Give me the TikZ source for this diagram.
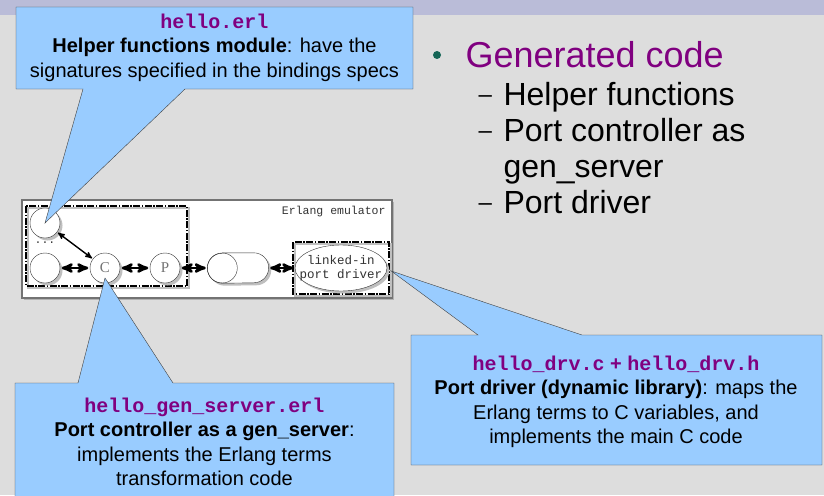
\documentclass[tikz,border=0pt]{standalone}
\usepackage{fontspec}
\setmainfont{Liberation Sans}
\newfontfamily\codefont{Liberation Mono}
\newfontfamily\serfont{Liberation Serif}
\usetikzlibrary{arrows, shapes.geometric, shadows}
\definecolor{slidebg}{RGB}{221,221,221}
\definecolor{slideband}{RGB}{186,188,216}
\definecolor{calloutblue}{RGB}{153,204,255}
\definecolor{codepurple}{RGB}{128,0,128}
\definecolor{bulletgreen}{RGB}{20,100,85}

\begin{document}
\begin{tikzpicture}[x=1pt,y=-1pt,>=stealth',node distance=60pt,thin]
            \tikzset{boxshadow/.style={drop shadow={shadow xshift=2.5pt, shadow yshift=-2.5pt, fill=black!25, opacity=1}}}
            \tikzset{proc/.style={circle, draw=black!80, fill=white, minimum size=30pt, inner sep=0pt, font=\serfont\fontsize{15}{15}\selectfont, text=black!55, boxshadow}}
            \tikzset{pipe/.style={rectangle, minimum width=61pt, minimum height=30pt, inner sep=0pt}}
            \tikzset{drvshape/.style={ellipse, draw=black!80, fill=white, minimum width=92pt, minimum height=46pt, inner sep=0pt, boxshadow}}
            \tikzset{emufont/.style={font=\codefont\fontsize{11.5}{14}\selectfont, text=black!80}}
            \tikzset{dashbox/.style={line width=1.6pt, dash pattern=on 7pt off 1.5pt on 1.5pt off 1.5pt, preaction={draw=black!25, solid, line width=1.6pt, transform canvas={shift={(2pt,-2pt)}}}}}
            \tikzset{bigarrow/.style={<->, line width=2.6pt, shorten <=1.5pt, shorten >=1.5pt}}
            \tikzset{smallarrow/.style={<->, line width=1.4pt, shorten <=1pt, shorten >=1pt}}
            \tikzset{callout/.style={draw=black!75, fill=calloutblue, line join=miter}}
            \tikzset{callouttext/.style={align=center, font=\fontsize{20}{24.5}\selectfont}}
            \tikzset{itemtext/.style={anchor=base west, font=\fontsize{32}{36}\selectfont}}
            \clip (0,0) rectangle (824,495);
            \fill[slidebg] (0,0) rectangle (824,495);
            \fill[slideband] (0,0) rectangle (824,15);
            \draw[draw=black!55, line width=1.2pt, fill=white, drop shadow={shadow xshift=2pt, shadow yshift=-2pt, fill=black!30, opacity=1}] (22,200) rectangle (392,298);
            \node[emufont, anchor=east] (emu) at (389,212) {Erlang emulator};
            \draw[dashbox] (26,206) rectangle (187,286);
            \draw[dashbox] (293,242) rectangle (389,294);
            \node[proc] (h1) at (45,223) {};
            \node[proc] (h2) [below of=h1, node distance=45pt] {};
            \node[emufont] (dots) at (45,243) {...};
            \node[proc] (ctrl) [right of=h2] {C};
            \node[proc] (port) [right of=ctrl] {P};
            \node[pipe] (pipe) at (238,268) {};
            \draw[draw=black!80, fill=white, boxshadow] ([xshift=15pt]pipe.north west) -- ([xshift=-15pt]pipe.north east) arc (90:-90:15pt) -- ([xshift=15pt]pipe.south west) arc (270:90:15pt) -- cycle;
            \draw[draw=black!80] ([xshift=15pt]pipe.west) circle (15pt);
            \node[drvshape] (drv) at (341,268) {};
            \node[emufont, align=center, font=\codefont\fontsize{12.5}{14}\selectfont] (drvtxt) at (drv.center) {linked-in\\port driver};
            \path[bigarrow] (h2) edge (ctrl);
            \path[bigarrow] (ctrl) edge (port);
            \path[bigarrow] (port) edge (pipe);
            \path[bigarrow] (pipe) edge (drv);
            \path[smallarrow] (h1) edge (ctrl);
            \draw[callout] (16,7) -- (413,7) -- (413,89) -- (185,89) -- (h1.center) -- (83,89) -- (16,89) -- cycle;
            \draw[callout] (15,383) -- (78,383) -- ([yshift=-10pt]ctrl.center) -- (173,383) -- (394,383) -- (394,500) -- (15,500) -- cycle;
            \draw[callout] (411,335) -- (478,335) -- ([shift={(4pt,-3pt)}]drv.east) -- (582,335) -- (822,335) -- (822,465) -- (411,465) -- cycle;
            \node[callouttext] (helper) at (214.5,47.5) {{\codefont\bfseries\color{codepurple}hello.erl}\\\textbf{Helper functions module}: have the\\signatures specified in the bindings specs};
            \node[callouttext] (server) at (204.5,442) {{\codefont\bfseries\color{codepurple}hello\_gen\_server.erl}\\\textbf{Port controller as a gen\_server}:\\implements the Erlang terms\\transformation code};
            \node[callouttext] (driver) at (616,402) {{\color{codepurple}\bfseries{\codefont hello\_drv.c} + {\codefont hello\_drv.h}}\\\textbf{Port driver (dynamic library)}: maps the\\Erlang terms to C variables, and\\implements the main C code};
            \fill[bulletgreen] (437,55) circle (4pt);
            \node[anchor=base west, font=\fontsize{36}{40}\selectfont, text=codepurple] (gen) at (462,67) {Generated code};
            \node[itemtext, font=\fontsize{24}{36}\selectfont] (d1) at (475,102) {--};
            \node[itemtext] (i1) at (500,105) {Helper functions};
            \node[itemtext, font=\fontsize{24}{36}\selectfont] (d2) at (475,138) {--};
            \node[itemtext] (i2) at (500,141) {Port controller as};
            \node[itemtext] (i3) at (500,177) {gen\_server};
            \node[itemtext, font=\fontsize{24}{36}\selectfont] (d3) at (475,210) {--};
            \node[itemtext] (i4) at (500,213) {Port driver};
        \end{tikzpicture}
\end{document}
